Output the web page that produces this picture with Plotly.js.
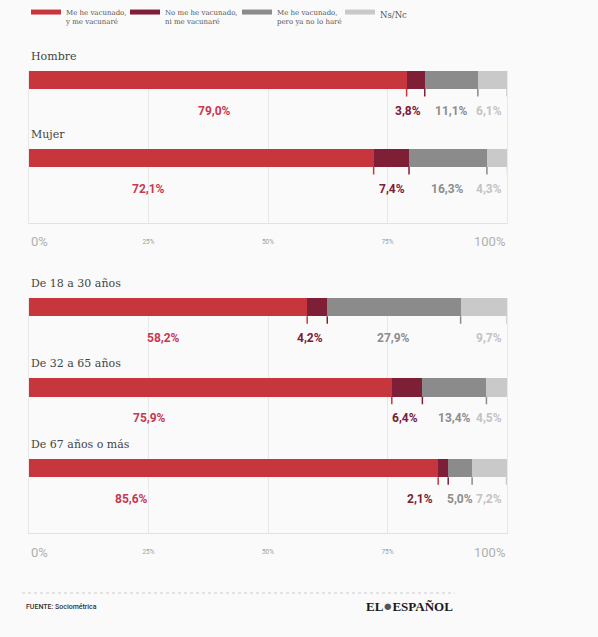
<!DOCTYPE html>
<html>
<head>
<meta charset="utf-8">
<script src="https://cdn.plot.ly/plotly-3.0.1.min.js"></script>
<style>
  html, body { margin: 0; padding: 0; background: #fafafa; }
  #grafico { width: 598px; height: 637px; }
</style>
</head>
<body>
<div id="grafico"></div>
<script>
// datos: encuesta Sociométrica, % por respuesta
var gruposSexo = ['Hombre', 'Mujer'];
var gruposEdad = ['De 18 a 30 años', 'De 32 a 65 años', 'De 67 años o más'];
var respuestas = ['Me he vacunado,<br>y me vacunaré', 'No me he vacunado,<br>ni me vacunaré',
                  'Me he vacunado,<br>pero ya no lo haré', 'Ns/Nc'];

var vacunaSexo   = [79.0, 72.1];
var noVacunaSexo = [3.8, 7.4];
var yaNoSexo     = [11.1, 16.3];
var nsncSexo     = [6.1, 4.3];

var vacunaEdad   = [58.2, 75.9, 85.6];
var noVacunaEdad = [4.2, 6.4, 2.1];
var yaNoEdad     = [27.9, 13.4, 5.0];
var nsncEdad     = [9.7, 4.5, 7.2];

var ticksEje   = [25, 50, 75];
var textoTicks = ['25%', '50%', '75%'];

// estilo
var colores      = ['#c8363d', '#7e1f37', '#8b8b8b', '#c9c9c9'];
var coloresTexto = ['#c73852', '#7a2039', '#8d8d8d', '#c3c3c3'];
var anchoLeyenda = [54, 67, 58, 30];
// donde va el rotulo del primer tramo (en %), colocado a mano en el original
var rotuloSexo = [38.9, 25.1];
var rotuloEdad = [28.2, 25.3, 21.5];

var W = 598, H = 637, MT = 33;
function py(px) { return (H - px) / (H - MT); }   // pixel vertical -> coordenada paper

var trazas = [];
var notas = [];

function fmt(v) { return v.toFixed(1).replace('.', ',') + '%'; }

function panel(grupos, valores, xa, ya, pxUnidad, posPrimero) {
  var idx = grupos.map(function(g, i) { return i; });
  var medio = 0.115;

  for (var s = 0; s < valores.length; s++) {
    trazas.push({
      type: 'bar', orientation: 'h',
      x: valores[s], y: idx, width: 0.23,
      marker: { color: colores[s], line: { width: 0 } },
      xaxis: xa, yaxis: ya, showlegend: false, hoverinfo: 'skip'
    });
  }

  // marcas bajo cada limite de tramo
  var acum = idx.map(function() { return 0; });
  var fines = [];
  for (var s = 0; s < valores.length; s++) {
    var xs = [], ys = [];
    var fin = [];
    for (var i = 0; i < idx.length; i++) {
      acum[i] += valores[s][i];
      fin.push(acum[i]);
      xs.push(acum[i], acum[i], null);
      ys.push(i + medio, i + medio + 7.5 / pxUnidad, null);
    }
    fines.push(fin);
    trazas.push({
      type: 'scatter', mode: 'lines', x: xs, y: ys,
      line: { color: colores[s], width: 1.5 },
      xaxis: xa, yaxis: ya, showlegend: false, hoverinfo: 'skip', cliponaxis: false
    });
  }

  for (var i = 0; i < idx.length; i++) {
    notas.push({
      xref: xa, yref: ya, x: 0, y: i, xanchor: 'left', yanchor: 'middle', yshift: 23.5,
      text: grupos[i], showarrow: false,
      font: { family: 'DejaVu Serif', size: 11, color: '#444' }
    });
    var f = { family: 'Roboto', size: 12, weight: 700 };
    var medio3 = (fines[1][i] + fines[2][i]) / 2;
    var rot = [
      { x: posPrimero[i], xanchor: 'center', xshift: 0 },
      { x: Math.min(fines[1][i], medio3 - 4.8), xanchor: 'right', xshift: -2 },
      { x: medio3, xanchor: 'center', xshift: 0 },
      { x: 100, xanchor: 'right', xshift: -3 }
    ];
    for (var s = 0; s < 4; s++) {
      notas.push({
        xref: xa, yref: ya, x: rot[s].x, y: i, xanchor: rot[s].xanchor, yanchor: 'middle',
        xshift: rot[s].xshift, yshift: -31, showarrow: false,
        text: fmt(valores[s][i]),
        font: Object.assign({ color: coloresTexto[s] }, f)
      });
    }
  }

  // 0% y 100% en los extremos del eje
  var yd = ya + ' domain';
  notas.push({ xref: xa, yref: yd, x: 0, y: 0, xanchor: 'left', yanchor: 'middle', yshift: -19,
               showarrow: false, text: '0%', font: { family: 'Roboto', size: 13, color: '#b0b0b0' } });
  notas.push({ xref: xa, yref: yd, x: 100, y: 0, xanchor: 'right', yanchor: 'middle', yshift: -19,
               showarrow: false, text: '100%', font: { family: 'Roboto', size: 13, color: '#b0b0b0' } });
}

panel(gruposSexo, [vacunaSexo, noVacunaSexo, yaNoSexo, nsncSexo], 'x', 'y', 78, rotuloSexo);
panel(gruposEdad, [vacunaEdad, noVacunaEdad, yaNoEdad, nsncEdad], 'x2', 'y2', 80.5, rotuloEdad);

// leyenda
for (var s = 0; s < respuestas.length; s++) {
  trazas.push({
    type: 'scatter', mode: 'lines', x: [null], y: [null],
    name: s === 3 ? '<span style="font-size:8.5px">' + respuestas[s] + '</span>' : respuestas[s],
    line: { color: colores[s], width: 5 },
    legendwidth: anchoLeyenda[s], hoverinfo: 'skip'
  });
}

notas.push({
  xref: 'paper', yref: 'paper', x: -0.0105, y: py(607), xanchor: 'left', yanchor: 'middle',
  showarrow: false, text: 'FUENTE: Sociométrica',
  font: { family: 'Roboto', size: 7, color: '#333', weight: 500 }
});
notas.push({
  xref: 'paper', yref: 'paper', x: 0.891, y: py(606), xanchor: 'right', yanchor: 'middle',
  showarrow: false, text: 'EL<span style="color:#555;font-size:15px">●</span>ESPAÑOL',
  font: { family: 'Liberation Serif', size: 13, color: '#1a1a1a', weight: 700 }
});

function ejeX(anchor) {
  return {
    domain: [0, 1], range: [0, 100], anchor: anchor, fixedrange: true,
    tickvals: ticksEje, ticktext: textoTicks, ticks: '',
    showgrid: true, gridcolor: '#e8e8e8', gridwidth: 1,
    showline: true, linecolor: '#e2e2e2', linewidth: 1, zeroline: false,
    tickfont: { family: 'Roboto', size: 6.5, color: '#a0a0a0' },
    ticklabelstandoff: 12, layer: 'below traces'
  };
}
function ejeY(dom, rango) {
  return {
    domain: dom, range: rango, fixedrange: true, showticklabels: false, ticks: '',
    showgrid: false, zeroline: false, showline: true, mirror: true,
    linecolor: '#e8e8e8', linewidth: 1, layer: 'below traces'
  };
}

var layout = {
  width: W, height: H,
  margin: { l: 29, r: 91, t: MT, b: 0 },
  paper_bgcolor: '#fafafa', plot_bgcolor: '#fafafa',
  barmode: 'stack', bargap: 0, hovermode: false,
  xaxis: ejeX('y'), yaxis: ejeY([py(222.7), py(71)], [1.83, -0.115]),
  xaxis2: ejeX('y2'), yaxis2: ejeY([py(533), py(297.7)], [2.807, -0.115]),
  showlegend: true,
  legend: {
    orientation: 'h', x: -0.0063, xanchor: 'left', y: 1, yanchor: 'bottom',
    valign: 'top', traceorder: 'normal', itemwidth: 30,
    bgcolor: 'rgba(0,0,0,0)', itemclick: false, itemdoubleclick: false,
    font: { family: 'DejaVu Serif', size: 7, color: '#555' }
  },
  annotations: notas,
  shapes: [{
    type: 'line', xref: 'paper', yref: 'paper', x0: -0.0146, x1: 0.891, y0: py(593), y1: py(593),
    line: { color: '#cccccc', width: 1, dash: 'dot' }
  }]
};

Plotly.newPlot('grafico', trazas, layout, { displayModeBar: false, staticPlot: true });
</script>
</body>
</html>
